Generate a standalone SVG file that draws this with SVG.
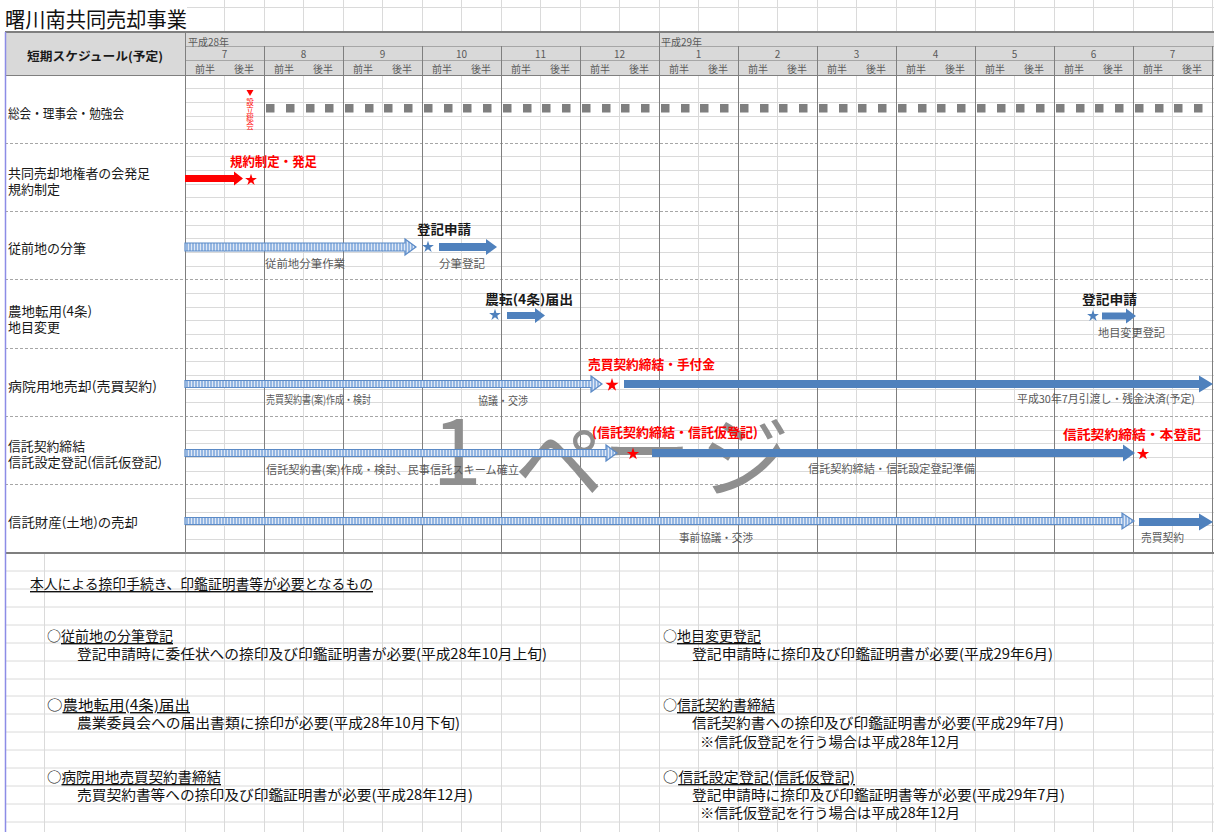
<svg xmlns="http://www.w3.org/2000/svg" width="1214" height="832" viewBox="0 0 1214 832">
<style>
text{font-family:"Noto Sans CJK JP","Noto Sans CJK SC",sans-serif;}
.lg{stroke:#dadada;stroke-width:1;fill:none}
.dk{stroke:#7f7f7f;stroke-width:1;fill:none}
.ds{stroke:#a6a6a6;stroke-width:1;stroke-dasharray:3 2;fill:none}
.lbl{font-size:13px;fill:#1a1a1a}
.hd{font-size:10px;fill:#595959}
.mo{font-size:10px;fill:#595959;text-anchor:middle}
.sm{font-size:11px;fill:#595959}
.red{font-size:13px;fill:#ff0000;font-weight:bold}
.blk{font-size:13px;fill:#1a1a1a;font-weight:bold}
.note{font-size:14px;fill:#111}
.u{text-decoration:underline}
.solid{fill:#4f81bd}
.str{fill:url(#stripe);stroke:#5b8ac6;stroke-width:1.2}
.rs{fill:#ff0000}
.bs{fill:#4f81bd}
.sq{fill:#7f7f7f}
</style>
<defs>
<pattern id="stripe" width="3" height="4" patternUnits="userSpaceOnUse">
<rect width="3" height="4" fill="#94b6e2"/>
<rect x="2" y="0" width="1" height="4" fill="#dfe8f5"/>
</pattern>
<polygon id="star" points="0,-10 2.245,-3.09 9.51,-3.09 3.63,1.18 5.88,8.09 0,3.82 -5.88,8.09 -3.63,1.18 -9.51,-3.09 -2.245,-3.09"/>
</defs>
<rect width="1214" height="832" fill="#ffffff"/>

<g id="grid">
<path class="lg" d="M187,7.5H1214 M224.5,0V32 M264.5,0V32 M303.5,0V32 M343.5,0V32 M382.5,0V32 M422.5,0V32 M461.5,0V32 M501.5,0V32 M540.5,0V32 M580.5,0V32 M619.5,0V32 M659.5,0V32 M698.5,0V32 M738.5,0V32 M777.5,0V32 M817.5,0V32 M856.5,0V32 M896.5,0V32 M935.5,0V32 M975.5,0V32 M1014.5,0V32 M1054.5,0V32 M1093.5,0V32 M1133.5,0V32 M1172.5,0V32 M1212.5,0V32"/>
<rect x="5" y="32" width="1209" height="43" fill="#d9d9d9"/>
<path d="M185,46.5H1214 M185,60.5H1214" stroke="#a6a6a6" stroke-width="1" fill="none"/>
<path class="dk" d="M264.5,46V75 M343.5,46V75 M422.5,46V75 M501.5,46V75 M580.5,46V75 M738.5,46V75 M817.5,46V75 M896.5,46V75 M975.5,46V75 M1054.5,46V75 M1133.5,46V75 M1212.5,46V75 M185.5,32V75 M659.5,32V75"/>
<path d="M5,32H1214" stroke="#7f7f7f" stroke-width="2"/>
<path class="lg" d="M185,88.5H1214 M185,102.5H1214 M185,116.5H1214 M185,129.5H1214 M185,156.5H1214 M185,170.5H1214 M185,184.5H1214 M185,197.5H1214 M185,225.5H1214 M185,238.5H1214 M185,252.5H1214 M185,266.5H1214 M185,293.5H1214 M185,307.5H1214 M185,320.5H1214 M185,334.5H1214 M185,361.5H1214 M185,375.5H1214 M185,389.5H1214 M185,402.5H1214 M185,430.5H1214 M185,443.5H1214 M185,457.5H1214 M185,471.5H1214 M185,498.5H1214 M185,512.5H1214 M185,525.5H1214 M185,539.5H1214"/>
<path class="lg" d="M224.5,75V553 M303.5,75V553 M382.5,75V553 M461.5,75V553 M540.5,75V553 M619.5,75V553 M698.5,75V553 M777.5,75V553 M856.5,75V553 M935.5,75V553 M1014.5,75V553 M1093.5,75V553 M1172.5,75V553"/>
<path class="ds" d="M5,143.5H1214 M5,211.5H1214 M5,279.5H1214 M5,348.5H1214 M5,416.5H1214 M5,484.5H1214"/>
<path class="dk" d="M185.5,75V553 M264.5,75V553 M343.5,75V553 M422.5,75V553 M501.5,75V553 M580.5,75V553 M659.5,75V553 M738.5,75V553 M817.5,75V553 M896.5,75V553 M975.5,75V553 M1054.5,75V553 M1133.5,75V553 M1212.5,75V553"/>
<path d="M5,75.5H1214" stroke="#7f7f7f" stroke-width="1"/>
<path class="lg" d="M5,571H1214 M5,589H1214 M5,607H1214 M5,625H1214 M5,643H1214 M5,661H1214 M5,679H1214 M5,696H1214 M5,714H1214 M5,732H1214 M5,750H1214 M5,768H1214 M5,786H1214 M5,804H1214 M5,822H1214"/>
<path class="lg" d="M44.5,553V832 M185.5,553V832 M224.5,553V832 M264.5,553V832 M303.5,553V832 M343.5,553V832 M382.5,553V832 M422.5,553V832 M461.5,553V832 M501.5,553V832 M540.5,553V832 M580.5,553V832 M619.5,553V832 M659.5,553V832 M698.5,553V832 M738.5,553V832 M777.5,553V832 M817.5,553V832 M856.5,553V832 M896.5,553V832 M935.5,553V832 M975.5,553V832 M1014.5,553V832 M1054.5,553V832 M1093.5,553V832 M1133.5,553V832 M1172.5,553V832 M1212.5,553V832"/>
<path d="M5,553H1214" stroke="#7f7f7f" stroke-width="2"/>
<path d="M5.5,32V832" stroke="#8c8ce6" stroke-width="1.5"/>
</g>

<g id="title"><text x="5" y="18" font-size="21" fill="#111" dominant-baseline="central" textLength="182" lengthAdjust="spacingAndGlyphs">曙川南共同売却事業</text></g>

<g id="header">
<text x="27" y="55" font-size="12" font-weight="bold" fill="#1a1a1a" dominant-baseline="central" textLength="136" lengthAdjust="spacingAndGlyphs">短期スケジュール(予定)</text>
<text class="hd" x="188" y="41" dominant-baseline="central">平成28年</text>
<text class="hd" x="661" y="41" dominant-baseline="central">平成29年</text>
<g dominant-baseline="central">
<text class="mo" x="224.5" y="53">7</text><text class="mo" x="303.5" y="53">8</text><text class="mo" x="382.5" y="53">9</text><text class="mo" x="461.5" y="53">10</text><text class="mo" x="540.5" y="53">11</text><text class="mo" x="619.5" y="53">12</text><text class="mo" x="698.5" y="53">1</text><text class="mo" x="777.5" y="53">2</text><text class="mo" x="856.5" y="53">3</text><text class="mo" x="935.5" y="53">4</text><text class="mo" x="1014.5" y="53">5</text><text class="mo" x="1093.5" y="53">6</text><text class="mo" x="1172.5" y="53">7</text>
<text class="mo" x="205" y="68">前半</text><text class="mo" x="244" y="68">後半</text>
<text class="mo" x="284" y="68">前半</text><text class="mo" x="323" y="68">後半</text>
<text class="mo" x="363" y="68">前半</text><text class="mo" x="402" y="68">後半</text>
<text class="mo" x="442" y="68">前半</text><text class="mo" x="481" y="68">後半</text>
<text class="mo" x="521" y="68">前半</text><text class="mo" x="560" y="68">後半</text>
<text class="mo" x="600" y="68">前半</text><text class="mo" x="639" y="68">後半</text>
<text class="mo" x="679" y="68">前半</text><text class="mo" x="718" y="68">後半</text>
<text class="mo" x="758" y="68">前半</text><text class="mo" x="797" y="68">後半</text>
<text class="mo" x="837" y="68">前半</text><text class="mo" x="876" y="68">後半</text>
<text class="mo" x="916" y="68">前半</text><text class="mo" x="955" y="68">後半</text>
<text class="mo" x="995" y="68">前半</text><text class="mo" x="1034" y="68">後半</text>
<text class="mo" x="1074" y="68">前半</text><text class="mo" x="1113" y="68">後半</text>
<text class="mo" x="1153" y="68">前半</text><text class="mo" x="1192" y="68">後半</text>
</g>
</g>

<g id="watermark"><text x="432 514 602 700" y="485 495 485 490" font-size="90" fill="#8f8f8f">1ページ</text></g>

<g id="row-meetings">
<text class="lbl" x="8" y="112" dominant-baseline="central" textLength="116" lengthAdjust="spacingAndGlyphs">総会・理事会・勉強会</text>
<polygon class="rs" points="246.5,90 253.5,90 250,96"/>
<text font-size="7.5" fill="#ff0000" text-anchor="middle"><tspan x="250" y="105">設</tspan><tspan x="250" y="113">立</tspan><tspan x="250" y="121">総</tspan><tspan x="250" y="129">会</tspan></text>
<g class="sq">
<rect x="266" y="104" width="8.5" height="8.5"/><rect x="286" y="104" width="8.5" height="8.5"/><rect x="306" y="104" width="8.5" height="8.5"/><rect x="325" y="104" width="8.5" height="8.5"/><rect x="345" y="104" width="8.5" height="8.5"/><rect x="365" y="104" width="8.5" height="8.5"/><rect x="384" y="104" width="8.5" height="8.5"/><rect x="404" y="104" width="8.5" height="8.5"/><rect x="424" y="104" width="8.5" height="8.5"/><rect x="444" y="104" width="8.5" height="8.5"/><rect x="463" y="104" width="8.5" height="8.5"/><rect x="483" y="104" width="8.5" height="8.5"/><rect x="503" y="104" width="8.5" height="8.5"/><rect x="523" y="104" width="8.5" height="8.5"/><rect x="542" y="104" width="8.5" height="8.5"/><rect x="562" y="104" width="8.5" height="8.5"/><rect x="582" y="104" width="8.5" height="8.5"/><rect x="602" y="104" width="8.5" height="8.5"/><rect x="621" y="104" width="8.5" height="8.5"/><rect x="641" y="104" width="8.5" height="8.5"/><rect x="661" y="104" width="8.5" height="8.5"/><rect x="681" y="104" width="8.5" height="8.5"/><rect x="700" y="104" width="8.5" height="8.5"/><rect x="720" y="104" width="8.5" height="8.5"/><rect x="740" y="104" width="8.5" height="8.5"/><rect x="760" y="104" width="8.5" height="8.5"/><rect x="779" y="104" width="8.5" height="8.5"/><rect x="799" y="104" width="8.5" height="8.5"/><rect x="819" y="104" width="8.5" height="8.5"/><rect x="839" y="104" width="8.5" height="8.5"/><rect x="858" y="104" width="8.5" height="8.5"/><rect x="878" y="104" width="8.5" height="8.5"/><rect x="898" y="104" width="8.5" height="8.5"/><rect x="918" y="104" width="8.5" height="8.5"/><rect x="937" y="104" width="8.5" height="8.5"/><rect x="957" y="104" width="8.5" height="8.5"/><rect x="977" y="104" width="8.5" height="8.5"/><rect x="997" y="104" width="8.5" height="8.5"/><rect x="1016" y="104" width="8.5" height="8.5"/><rect x="1036" y="104" width="8.5" height="8.5"/><rect x="1056" y="104" width="8.5" height="8.5"/><rect x="1076" y="104" width="8.5" height="8.5"/><rect x="1095" y="104" width="8.5" height="8.5"/><rect x="1115" y="104" width="8.5" height="8.5"/><rect x="1135" y="104" width="8.5" height="8.5"/><rect x="1155" y="104" width="8.5" height="8.5"/><rect x="1174" y="104" width="8.5" height="8.5"/><rect x="1194" y="104" width="8.5" height="8.5"/>
</g>
</g>

<g id="row-association">
<text class="lbl" x="8" y="172" dominant-baseline="central" textLength="142" lengthAdjust="spacingAndGlyphs">共同売却地権者の会発足</text>
<text class="lbl" x="8" y="188" dominant-baseline="central">規約制定</text>
<text class="red" x="230" y="160" dominant-baseline="central" textLength="87" lengthAdjust="spacingAndGlyphs">規約制定・発足</text>
</g>

<g id="row-subdivision">
<text class="lbl" x="8" y="247" dominant-baseline="central">従前地の分筆</text>
<text class="blk" x="417" y="228" dominant-baseline="central" textLength="54" lengthAdjust="spacingAndGlyphs">登記申請</text>
<text class="sm" x="265" y="263" dominant-baseline="central" textLength="80" lengthAdjust="spacingAndGlyphs">従前地分筆作業</text>
<text class="sm" x="439" y="263" dominant-baseline="central" textLength="46" lengthAdjust="spacingAndGlyphs">分筆登記</text>
</g>

<g id="row-farmland">
<text class="lbl" x="8" y="310" dominant-baseline="central" textLength="84" lengthAdjust="spacingAndGlyphs">農地転用(4条)</text>
<text class="lbl" x="8" y="326" dominant-baseline="central">地目変更</text>
<text class="blk" x="485" y="298" dominant-baseline="central" textLength="88" lengthAdjust="spacingAndGlyphs">農転(4条)届出</text>
<text class="blk" x="1082" y="298" dominant-baseline="central" textLength="55" lengthAdjust="spacingAndGlyphs">登記申請</text>
<text class="sm" x="1098" y="332" dominant-baseline="central" textLength="67" lengthAdjust="spacingAndGlyphs">地目変更登記</text>
</g>

<g id="row-hospital">
<text class="lbl" x="8" y="385" dominant-baseline="central" textLength="149" lengthAdjust="spacingAndGlyphs">病院用地売却(売買契約)</text>
<text class="red" x="588" y="363" dominant-baseline="central" textLength="127" lengthAdjust="spacingAndGlyphs">売買契約締結・手付金</text>
<text class="sm" x="266" y="399" dominant-baseline="central" textLength="105" lengthAdjust="spacingAndGlyphs">売買契約書(案)作成・検討</text>
<text class="sm" x="478" y="400" dominant-baseline="central" textLength="50" lengthAdjust="spacingAndGlyphs">協議・交渉</text>
<text class="sm" x="1017" y="398" dominant-baseline="central" textLength="178" lengthAdjust="spacingAndGlyphs">平成30年7月引渡し・残金決済(予定)</text>
</g>

<g id="row-trust">
<text class="lbl" x="8" y="445" dominant-baseline="central" textLength="77" lengthAdjust="spacingAndGlyphs">信託契約締結</text>
<text class="lbl" x="8" y="461" dominant-baseline="central" textLength="154" lengthAdjust="spacingAndGlyphs">信託設定登記(信託仮登記)</text>
<text class="red" x="592" y="431" dominant-baseline="central" textLength="166" lengthAdjust="spacingAndGlyphs">(信託契約締結・信託仮登記)</text>
<text class="red" x="1063" y="433" dominant-baseline="central" textLength="138" lengthAdjust="spacingAndGlyphs">信託契約締結・本登記</text>
<text class="sm" x="266" y="469" dominant-baseline="central" textLength="253" lengthAdjust="spacingAndGlyphs">信託契約書(案)作成・検討、民事信託スキーム確立</text>
<text class="sm" x="808" y="468" dominant-baseline="central" textLength="167" lengthAdjust="spacingAndGlyphs">信託契約締結・信託設定登記準備</text>
</g>

<g id="row-sale">
<text class="lbl" x="8" y="521" dominant-baseline="central" textLength="130" lengthAdjust="spacingAndGlyphs">信託財産(土地)の売却</text>
<text class="sm" x="679" y="537" dominant-baseline="central" textLength="74" lengthAdjust="spacingAndGlyphs">事前協議・交渉</text>
<text class="sm" x="1141" y="537" dominant-baseline="central" textLength="43" lengthAdjust="spacingAndGlyphs">売買契約</text>
</g>

<g id="connectors">
<path fill="#ff0000" d="M185,175H234V171.5L243,178.5L234,185.5V182H185Z"/>
<path class="str" d="M185,243H405V239L416,247L405,255V251H185Z"/>
<path class="solid" d="M439,243H486V239L497,247L486,255V251H439Z"/>
<path class="solid" d="M507,312H535V308L545,315.5L535,323V319H507Z"/>
<path class="solid" d="M1102,312.5H1126V308.5L1136,316L1126,323.5V319.5H1102Z"/>
<path class="str" d="M185,380.5H591V376L602,384L591,392V387.5H185Z"/>
<path class="solid" d="M624,380H1199V375.5L1213,384L1199,392.5V388H624Z"/>
<path class="str" d="M185,449.5H606V445L617,453L606,461V456.5H185Z"/>
<path class="solid" d="M652,449H1123V444.5L1135,453L1123,461.5V457H652Z"/>
<path class="str" d="M185,517.5H1122V513L1134,521L1122,529V524.5H185Z"/>
<path class="solid" d="M1139,518H1199V513.5L1213,522L1199,530.5V526H1139Z"/>
</g>

<g id="milestones">
<use href="#star" class="rs" transform="translate(251,180) scale(0.62)"/>
<use href="#star" class="bs" transform="translate(428,247) scale(0.62)"/>
<use href="#star" class="bs" transform="translate(495,315) scale(0.62)"/>
<use href="#star" class="bs" transform="translate(1093,316) scale(0.62)"/>
<use href="#star" class="rs" transform="translate(612,385) scale(0.7)"/>
<use href="#star" class="rs" transform="translate(633,454) scale(0.65)"/>
<use href="#star" class="rs" transform="translate(1143,454) scale(0.65)"/>
</g>

<g id="notes" dominant-baseline="central">
<text class="note" x="30" y="583" textLength="343" lengthAdjust="spacingAndGlyphs"><tspan class="u">本人による捺印手続き、印鑑証明書等が必要となるもの</tspan></text>
<text class="note" x="47" y="635">○<tspan class="u">従前地の分筆登記</tspan></text>
<text class="note" x="77" y="653" textLength="470" lengthAdjust="spacingAndGlyphs">登記申請時に委任状への捺印及び印鑑証明書が必要(平成28年10月上旬)</text>
<text class="note" x="47" y="704" textLength="143" lengthAdjust="spacingAndGlyphs">○<tspan class="u">農地転用(4条)届出</tspan></text>
<text class="note" x="77" y="722" textLength="383" lengthAdjust="spacingAndGlyphs">農業委員会への届出書類に捺印が必要(平成28年10月下旬)</text>
<text class="note" x="47" y="776" textLength="174" lengthAdjust="spacingAndGlyphs">○<tspan class="u">病院用地売買契約書締結</tspan></text>
<text class="note" x="77" y="794" textLength="396" lengthAdjust="spacingAndGlyphs">売買契約書等への捺印及び印鑑証明書が必要(平成28年12月)</text>
<text class="note" x="663" y="635">○<tspan class="u">地目変更登記</tspan></text>
<text class="note" x="692" y="653" textLength="361" lengthAdjust="spacingAndGlyphs">登記申請時に捺印及び印鑑証明書が必要(平成29年6月)</text>
<text class="note" x="663" y="704">○<tspan class="u">信託契約書締結</tspan></text>
<text class="note" x="692" y="722" textLength="372" lengthAdjust="spacingAndGlyphs">信託契約書への捺印及び印鑑証明書が必要(平成29年7月)</text>
<text class="note" x="700" y="741" textLength="260" lengthAdjust="spacingAndGlyphs">※信託仮登記を行う場合は平成28年12月</text>
<text class="note" x="663" y="776" textLength="192" lengthAdjust="spacingAndGlyphs">○<tspan class="u">信託設定登記(信託仮登記)</tspan></text>
<text class="note" x="692" y="794" textLength="373" lengthAdjust="spacingAndGlyphs">登記申請時に捺印及び印鑑証明書等が必要(平成29年7月)</text>
<text class="note" x="700" y="812" textLength="260" lengthAdjust="spacingAndGlyphs">※信託仮登記を行う場合は平成28年12月</text>
</g>
</svg>
